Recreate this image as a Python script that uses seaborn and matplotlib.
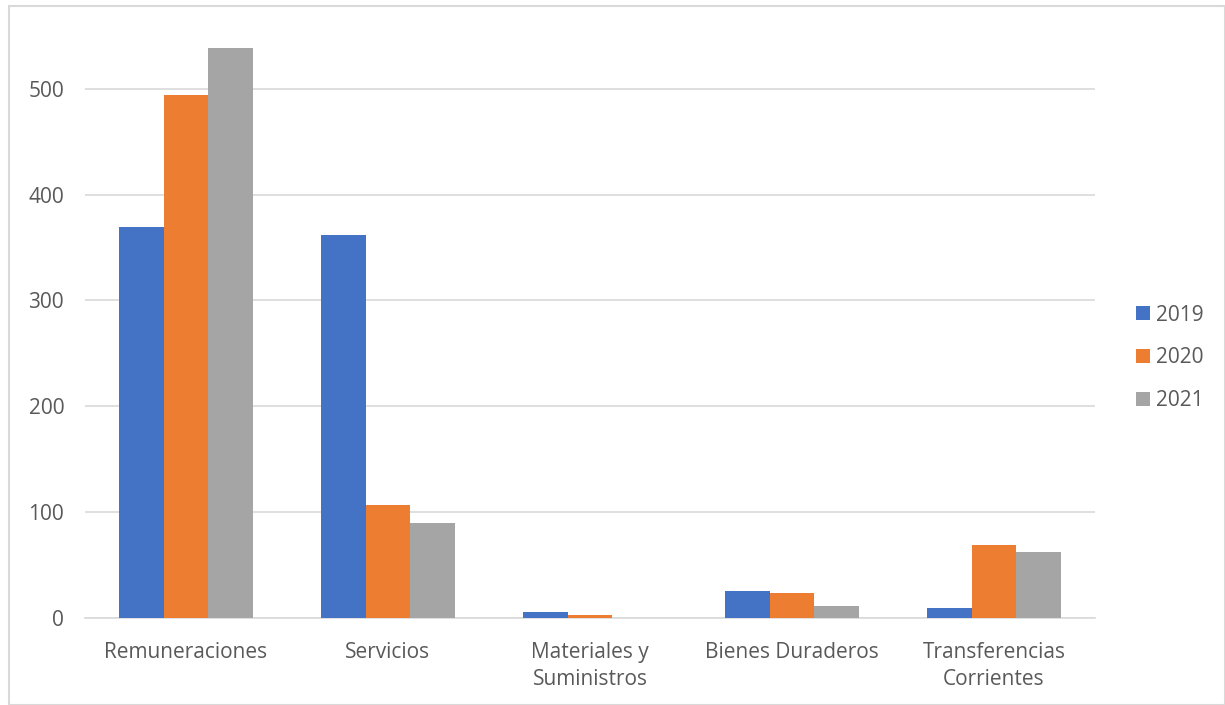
import numpy as np
import pandas as pd
import matplotlib
matplotlib.use('Agg')
import matplotlib.pyplot as plt
import matplotlib.patches as mpatches
import seaborn as sns

# data
categorias = ['Remuneraciones', 'Servicios', 'Materiales y\nSuministros',
              'Bienes Duraderos', 'Transferencias\nCorrientes']
anios = ['2019', '2020', '2021']
v2019 = [369, 362, 5.4, 25.5, 9.5]
v2020 = [494, 107, 2.5, 23.3, 69]
v2021 = [539, 90, 0, 11.3, 62.5]
colores = ['#4472C4', '#ED7D31', '#A5A5A5']

df = pd.DataFrame({
    'categoria': categorias * 3,
    'anio': [a for a in anios for _ in categorias],
    'valor': v2019 + v2020 + v2021,
})

sns.set_theme(style='white')
plt.rcParams['font.family'] = ['Open Sans', 'DejaVu Sans']

fig = plt.figure(figsize=(12.25, 7.05), dpi=100)
ax = fig.add_axes([85 / 1225, 1 - 618 / 705, 1010 / 1225, 598 / 705])

sns.barplot(data=df, x='categoria', y='valor', hue='anio', palette=colores,
            width=0.665, saturation=1, linewidth=0, ax=ax, zorder=3)

ax.set_ylim(0, 565)
ax.set_yticks([0, 100, 200, 300, 400, 500])
ax.grid(axis='y', color='#d9d9d9', linewidth=1.2, zorder=0)
ax.set_axisbelow(True)
for s in ['top', 'right', 'left']:
    ax.spines[s].set_visible(False)
ax.spines['bottom'].set_color('#d9d9d9')
ax.spines['bottom'].set_linewidth(1.2)
ax.set_xlabel('')
ax.set_ylabel('')
ax.tick_params(axis='both', length=0, labelsize=15, labelcolor='#595959')
ax.tick_params(axis='y', pad=15)
ax.tick_params(axis='x', pad=17)
for lbl in ax.get_xticklabels():
    lbl.set_linespacing(1.38)

ax.legend(loc='center left', bbox_to_anchor=(1136 / 1225, 1 - 358 / 705),
          bbox_transform=fig.transFigure, frameon=False, borderpad=0,
          borderaxespad=0, fontsize=15, labelcolor='#595959',
          handlelength=0.65, handleheight=0.65, handletextpad=0.3,
          labelspacing=1.05)

# light frame around the chart area
fig.patches.append(mpatches.Rectangle((9 / 1225, 0), 1 - 9 / 1225, 1 - 6 / 705,
                                      transform=fig.transFigure, fill=False,
                                      edgecolor='#d9d9d9', linewidth=1.5))

fig.savefig('out.png', dpi=100)
